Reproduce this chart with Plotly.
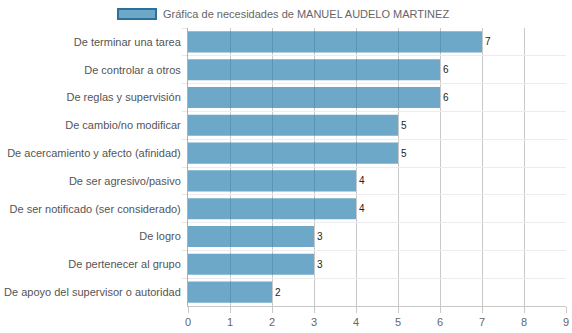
import plotly.graph_objects as go

categories = [
    "De terminar una tarea",
    "De controlar a otros",
    "De reglas y supervisión",
    "De cambio/no modificar",
    "De acercamiento y afecto (afinidad)",
    "De ser agresivo/pasivo",
    "De ser notificado (ser considerado)",
    "De logro",
    "De pertenecer al grupo",
    "De apoyo del supervisor o autoridad",
]
values = [7, 6, 6, 5, 5, 4, 4, 3, 3, 2]
series_name = "Gráfica de necesidades de MANUEL AUDELO MARTINEZ"
x_ticks = list(range(0, 10))

BAR_FILL = "rgba(32,121,171,0.65)"
BAR_EDGE = "rgb(44,112,156)"
FONT = "Liberation Sans, Arial, sans-serif"

fig = go.Figure(
    go.Bar(
        x=values,
        y=categories,
        orientation="h",
        marker=dict(color=BAR_FILL, line=dict(width=0)),
        width=0.76,
        text=[str(v) for v in values],
        textposition="outside",
        textfont=dict(family=FONT, size=10, color="#222"),
        cliponaxis=False,
        name=series_name,
        showlegend=False,
    )
)

W, H = 572, 333
ml, mr, mt, mb = 188, 6, 28, 27

fig.update_layout(
    width=W,
    height=H,
    margin=dict(l=ml, r=mr, t=mt, b=mb, pad=0),
    paper_bgcolor="white",
    plot_bgcolor="white",
    font=dict(family=FONT, size=12, color="#666"),
    bargap=0.24,
)

fig.update_xaxes(
    range=[0, 9],
    tickvals=x_ticks,
    ticks="outside",
    ticklen=6,
    tickcolor="#c8c8c8",
    showgrid=True,
    gridcolor="#c8c8c8",
    gridwidth=1,
    zeroline=False,
    showline=True,
    linecolor="#c8c8c8",
    automargin=False,
    tickfont=dict(family=FONT, size=11, color="#666"),
)

fig.update_yaxes(
    autorange="reversed",
    tickson="boundaries",
    ticks="outside",
    ticklen=5,
    tickcolor="#e6e6e6",
    showgrid=True,
    gridcolor="#ececec",
    gridwidth=1,
    showline=True,
    linecolor="#b0b0b0",
    automargin=False,
    tickfont=dict(family=FONT, size=11, color="#555"),
    ticklabelstandoff=4,
)

# Legend swatch and label drawn at the top of the chart
px2x = lambda p: (p - ml) / (W - ml - mr)
px2y = lambda p: 1 - (p - mt) / (H - mt - mb)
fig.add_shape(
    type="rect", xref="paper", yref="paper",
    x0=px2x(118), x1=px2x(156), y0=px2y(19), y1=px2y(9),
    fillcolor=BAR_FILL, line=dict(color=BAR_EDGE, width=2),
)
fig.add_annotation(
    xref="paper", yref="paper",
    x=px2x(161), y=px2y(14),
    xanchor="left", yanchor="middle",
    text=series_name, showarrow=False,
    font=dict(family=FONT, size=11, color="#666"),
)

fig.write_html("out.html")
